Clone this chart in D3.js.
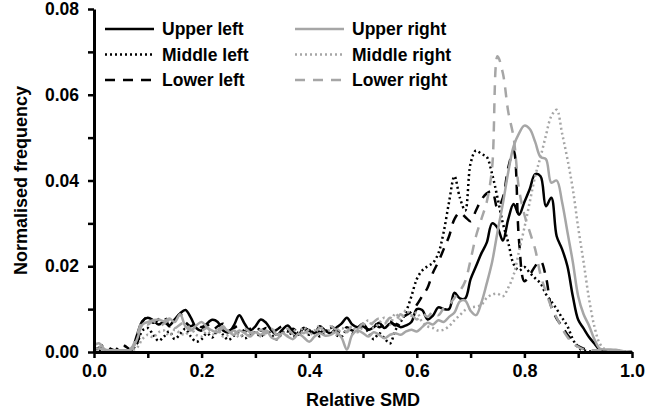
<!DOCTYPE html>
<html lang="en">
<head>
    <meta charset="UTF-8">
    <title>Relative SMD</title>
    <script src="https://d3js.org/d3.v7.min.js"></script>
    <style>
        body { margin: 0; background: #fff; }
        svg text { font-family: "Liberation Sans", Arial, sans-serif; font-weight: bold; }
    </style>
</head>
<body>
    <svg id="chart" width="665" height="412"></svg>
    <script>
        // relative SMD grid, 0.00 .. 1.00 in steps of 0.01
        const smd = d3.range(101).map(i => i / 100);

        const upperLeft = [
            0, 0, 0, 0, 0, 0, 0, 0.0005, 0.0040, 0.0072,
            0.0080, 0.0074, 0.0064, 0.0070, 0.0062, 0.0076, 0.0090, 0.0098, 0.0080, 0.0056,
            0.0050, 0.0066, 0.0075, 0.0070, 0.0050, 0.0046, 0.0062, 0.0086, 0.0066, 0.0050,
            0.0060, 0.0076, 0.0068, 0.0050, 0.0040, 0.0052, 0.0062, 0.0048, 0.0040, 0.0056,
            0.0050, 0.0044, 0.0060, 0.0050, 0.0044, 0.0056, 0.0066, 0.0080, 0.0064, 0.0058,
            0.0066, 0.0052, 0.0058, 0.0068, 0.0056, 0.0066, 0.0064, 0.0058, 0.0062, 0.0070,
            0.0100, 0.0098, 0.0076, 0.0085, 0.0104, 0.0100, 0.0100, 0.0138, 0.0125, 0.0125,
            0.0170, 0.0200, 0.0230, 0.0255, 0.0300, 0.0290, 0.0260, 0.0310, 0.0345, 0.0320,
            0.0350, 0.0380, 0.0415, 0.0410, 0.0340, 0.0360, 0.0270, 0.0240, 0.0200, 0.0130,
            0.0075, 0.0055, 0.0035, 0.0020, 0.0005, 0.0002, 0, 0, 0, 0,
            0
        ];
        const middleLeft = [
            0.0004, 0.0004, 0.0004, 0.0004, 0.0004, 0.0004, 0.0004, 0.0006, 0.0020, 0.0050,
            0.0056, 0.0040, 0.0026, 0.0036, 0.0048, 0.0030, 0.0042, 0.0054, 0.0036, 0.0024,
            0.0030, 0.0044, 0.0034, 0.0050, 0.0040, 0.0028, 0.0038, 0.0044, 0.0032, 0.0040,
            0.0046, 0.0036, 0.0050, 0.0040, 0.0030, 0.0044, 0.0052, 0.0036, 0.0046, 0.0054,
            0.0040, 0.0050, 0.0036, 0.0046, 0.0056, 0.0040, 0.0036, 0.0052, 0.0044, 0.0050,
            0.0062, 0.0046, 0.0030, 0.0044, 0.0032, 0.0020, 0.0050, 0.0070, 0.0094, 0.0130,
            0.0170, 0.0190, 0.0200, 0.0208, 0.0230, 0.0280, 0.0350, 0.0410, 0.0360, 0.0330,
            0.0440, 0.0470, 0.0462, 0.0455, 0.0415, 0.0360, 0.0300, 0.0255, 0.0205, 0.0190,
            0.0198, 0.0185, 0.0172, 0.0160, 0.0135, 0.0118, 0.0100, 0.0080, 0.0060, 0.0030,
            0.0010, 0.0004, 0.0002, 0, 0, 0, 0, 0, 0, 0,
            0
        ];
        const lowerLeft = [
            0.0006, 0.0010, 0.0018, 0.0008, 0.0004, 0.0018, 0.0012, 0.0004, 0.0020, 0.0070,
            0.0082, 0.0068, 0.0076, 0.0084, 0.0060, 0.0072, 0.0088, 0.0070, 0.0060, 0.0068,
            0.0058, 0.0064, 0.0052, 0.0060, 0.0066, 0.0050, 0.0056, 0.0062, 0.0048, 0.0054,
            0.0060, 0.0050, 0.0056, 0.0046, 0.0052, 0.0060, 0.0048, 0.0054, 0.0046, 0.0056,
            0.0050, 0.0058, 0.0046, 0.0054, 0.0060, 0.0052, 0.0044, 0.0058, 0.0050, 0.0056,
            0.0060, 0.0052, 0.0066, 0.0058, 0.0064, 0.0072, 0.0062, 0.0078, 0.0086, 0.0094,
            0.0110, 0.0130, 0.0150, 0.0185, 0.0210, 0.0240, 0.0270, 0.0310, 0.0325, 0.0315,
            0.0305, 0.0330, 0.0355, 0.0370, 0.0375, 0.0335, 0.0360, 0.0430, 0.0470, 0.0260,
            0.0165, 0.0180, 0.0200, 0.0212, 0.0175, 0.0105, 0.0078, 0.0060, 0.0040, 0.0026,
            0.0014, 0.0008, 0.0004, 0.0002, 0, 0, 0, 0, 0, 0,
            0
        ];
        const upperRight = [
            0.0016, 0.0020, 0.0006, 0.0004, 0.0004, 0.0004, 0.0004, 0.0006, 0.0030, 0.0064,
            0.0070, 0.0074, 0.0076, 0.0072, 0.0078, 0.0070, 0.0088, 0.0060, 0.0050, 0.0062,
            0.0070, 0.0058, 0.0050, 0.0046, 0.0056, 0.0048, 0.0040, 0.0050, 0.0044, 0.0036,
            0.0046, 0.0040, 0.0050, 0.0034, 0.0030, 0.0044, 0.0036, 0.0030, 0.0042, 0.0034,
            0.0024, 0.0036, 0.0044, 0.0038, 0.0040, 0.0046, 0.0034, 0.0006, 0.0040, 0.0050,
            0.0044, 0.0036, 0.0046, 0.0040, 0.0032, 0.0040, 0.0044, 0.0040, 0.0048, 0.0052,
            0.0048, 0.0058, 0.0068, 0.0064, 0.0074, 0.0070, 0.0082, 0.0092, 0.0118, 0.0120,
            0.0096, 0.0086, 0.0115, 0.0160, 0.0210, 0.0280, 0.0346, 0.0420, 0.0480, 0.0510,
            0.0528, 0.0520, 0.0490, 0.0455, 0.0450, 0.0395, 0.0400, 0.0350, 0.0280, 0.0210,
            0.0130, 0.0088, 0.0062, 0.0030, 0.0008, 0.0006, 0.0006, 0.0005, 0.0003, 0,
            0
        ];
        const middleRight = [
            0.0010, 0.0012, 0.0005, 0.0004, 0.0004, 0.0004, 0.0004, 0.0004, 0.0010, 0.0030,
            0.0040, 0.0034, 0.0046, 0.0050, 0.0038, 0.0052, 0.0044, 0.0040, 0.0054, 0.0040,
            0.0036, 0.0048, 0.0040, 0.0052, 0.0036, 0.0040, 0.0050, 0.0034, 0.0046, 0.0040,
            0.0050, 0.0036, 0.0044, 0.0054, 0.0040, 0.0046, 0.0038, 0.0052, 0.0044, 0.0058,
            0.0040, 0.0050, 0.0062, 0.0046, 0.0052, 0.0040, 0.0056, 0.0050, 0.0060, 0.0046,
            0.0060, 0.0074, 0.0056, 0.0068, 0.0080, 0.0064, 0.0090, 0.0076, 0.0098, 0.0084,
            0.0092, 0.0070, 0.0060, 0.0056, 0.0050, 0.0052, 0.0060, 0.0074, 0.0086, 0.0098,
            0.0104, 0.0106, 0.0110, 0.0126, 0.0134, 0.0136, 0.0130, 0.0150, 0.0180, 0.0235,
            0.0290, 0.0350, 0.0410, 0.0455, 0.0505, 0.0550, 0.0565, 0.0510, 0.0450, 0.0380,
            0.0290, 0.0210, 0.0125, 0.0060, 0.0020, 0.0006, 0.0004, 0.0003, 0.0002, 0,
            0
        ];
        const lowerRight = [
            0.0008, 0.0008, 0.0004, 0.0004, 0.0004, 0.0004, 0.0004, 0.0010, 0.0040, 0.0070,
            0.0064, 0.0072, 0.0060, 0.0066, 0.0074, 0.0056, 0.0064, 0.0070, 0.0052, 0.0058,
            0.0050, 0.0056, 0.0046, 0.0052, 0.0060, 0.0044, 0.0050, 0.0042, 0.0054, 0.0046,
            0.0040, 0.0052, 0.0044, 0.0056, 0.0040, 0.0048, 0.0054, 0.0042, 0.0050, 0.0044,
            0.0052, 0.0046, 0.0056, 0.0048, 0.0060, 0.0052, 0.0058, 0.0046, 0.0062, 0.0054,
            0.0066, 0.0058, 0.0070, 0.0078, 0.0066, 0.0080, 0.0072, 0.0088, 0.0078, 0.0086,
            0.0076, 0.0090, 0.0082, 0.0094, 0.0086, 0.0102, 0.0110, 0.0126, 0.0142, 0.0165,
            0.0215, 0.0270, 0.0310, 0.0350, 0.0430, 0.0690, 0.0650, 0.0560, 0.0500, 0.0380,
            0.0320, 0.0280, 0.0240, 0.0180, 0.0140, 0.0105, 0.0080, 0.0055, 0.0035, 0.0020,
            0.0012, 0.0006, 0.0004, 0.0004, 0.0004, 0.0004, 0.0004, 0.0004, 0.0004, 0.0002,
            0
        ];

        const seriesNames = ["Upper left", "Middle left", "Lower left", "Upper right", "Middle right", "Lower right"];
        const xTicks = d3.range(11).map(i => i / 10);
        const yTicks = d3.range(9).map(i => i / 100);

        const series = [
            {name: seriesNames[0], values: upperLeft, color: "#000", dash: null},
            {name: seriesNames[1], values: middleLeft, color: "#000", dash: "2,3"},
            {name: seriesNames[2], values: lowerLeft, color: "#000", dash: "10,8"},
            {name: seriesNames[3], values: upperRight, color: "#a6a6a6", dash: null},
            {name: seriesNames[4], values: middleRight, color: "#a6a6a6", dash: "2,3"},
            {name: seriesNames[5], values: lowerRight, color: "#a6a6a6", dash: "10,8"}
        ];

        const svg = d3.select("#chart");
        const margin = {top: 9, right: 33, bottom: 60, left: 94};
        const width = 665 - margin.left - margin.right;
        const height = 412 - margin.top - margin.bottom;
        const g = svg.append("g").attr("transform", `translate(${margin.left},${margin.top})`);

        const x = d3.scaleLinear().domain([0, 1]).range([0, width]);
        const y = d3.scaleLinear().domain([0, 0.08]).range([height, 0]);

        // curves first, axes on top
        const line = d3.line()
            .x((d, i) => x(smd[i]))
            .y(d => y(d))
            .curve(d3.curveCatmullRom.alpha(0.5));

        g.selectAll("path.series")
            .data(series)
            .enter().append("path")
            .attr("class", "series")
            .attr("fill", "none")
            .attr("stroke", d => d.color)
            .attr("stroke-width", 2.5)
            .attr("stroke-dasharray", d => d.dash)
            .attr("d", d => line(d.values));

        // x axis
        const xAxis = g.append("g")
            .attr("transform", `translate(0,${height})`)
            .call(d3.axisBottom(x).tickValues(xTicks).tickSize(6).tickSizeOuter(0)
                .tickFormat((d, i) => i % 2 === 0 ? d3.format(".1f")(d) : ""));
        xAxis.select(".domain").attr("stroke-width", 3);
        xAxis.selectAll(".tick line").attr("stroke-width", 2.5);
        xAxis.selectAll("text").attr("font-size", 18).attr("fill", "#000").attr("y", 12);

        // y axis
        const yAxis = g.append("g")
            .call(d3.axisLeft(y).tickValues(yTicks).tickSize(6).tickSizeOuter(0)
                .tickFormat((d, i) => i % 2 === 0 ? d3.format(".2f")(d) : ""));
        yAxis.select(".domain").attr("stroke-width", 3);
        yAxis.selectAll(".tick line").attr("stroke-width", 2.5);
        yAxis.selectAll("text").attr("font-size", 17.5).attr("fill", "#000").attr("x", -15);

        // axis titles
        svg.append("text")
            .attr("x", margin.left + width / 2)
            .attr("y", 406)
            .attr("text-anchor", "middle")
            .attr("font-size", 18)
            .text("Relative SMD");

        svg.append("text")
            .attr("transform", `translate(27,${margin.top + height / 2}) rotate(-90)`)
            .attr("text-anchor", "middle")
            .attr("font-size", 18)
            .text("Normalised frequency");

        // legend, two columns of three
        const legend = svg.append("g");
        series.forEach((s, i) => {
            const col = Math.floor(i / 3), row = i % 3;
            const lx = 105 + col * 190, ly = 29 + row * 25.5;
            legend.append("line")
                .attr("x1", lx).attr("x2", lx + 49)
                .attr("y1", ly).attr("y2", ly)
                .attr("stroke", s.color)
                .attr("stroke-width", 2.5)
                .attr("stroke-dasharray", s.dash);
            legend.append("text")
                .attr("x", lx + 57)
                .attr("y", ly + 6)
                .attr("font-size", 17.5)
                .text(s.name);
        });
    </script>
</body>
</html>
